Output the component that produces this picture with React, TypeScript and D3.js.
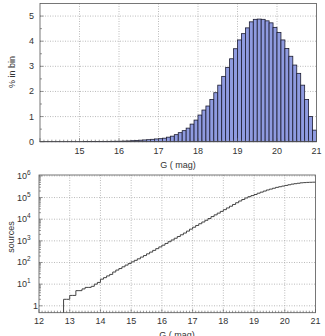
import React from "react";
import * as d3 from "d3";

// histogram: % of sources per 0.1 mag bin, bins start at 14.0 ... 20.9
const binStarts = d3.range(70).map((i) => +(14 + i * 0.1).toFixed(1));
const pctInBin = [
  0.0005, 0.0006, 0.0007, 0.0008, 0.001, 0.0012, 0.0014, 0.0016, 0.0018, 0.002,
  0.003, 0.004, 0.005, 0.006, 0.008, 0.009, 0.011, 0.013, 0.015, 0.018,
  0.02, 0.025, 0.03, 0.04, 0.05, 0.06, 0.07, 0.08, 0.095, 0.11,
  0.12, 0.14, 0.18, 0.22, 0.28, 0.36, 0.44, 0.54, 0.7, 0.86,
  1.06, 1.26, 1.42, 1.68, 1.95, 2.25, 2.6, 2.95, 3.3, 3.7,
  4.05, 4.3, 4.53, 4.77, 4.87, 4.88, 4.87, 4.81, 4.73, 4.55,
  4.35, 4.05, 3.71, 3.4, 3.05, 2.72, 2.25, 1.68, 1.0, 0.46,
];
const histXTicks = [15, 16, 17, 18, 19, 20, 21];
const histYTicks = [0, 1, 2, 3, 4, 5];

// cumulative sources (log10) per 0.1 mag step, starting at 12.8
const cumStarts = d3.range(82).map((i) => +(12.8 + i * 0.1).toFixed(1));
const cumLog10 = [
  0.3, 0.3, 0.48, 0.48, 0.7, 0.7, 0.78, 0.85, 0.85, 0.9,
  1.0, 1.08, 1.23, 1.3, 1.38, 1.45, 1.56, 1.65, 1.72, 1.8,
  1.88, 1.95, 2.03, 2.1, 2.17, 2.25, 2.32, 2.4, 2.48, 2.56,
  2.64, 2.72, 2.8, 2.88, 2.96, 3.04, 3.12, 3.2, 3.28, 3.36,
  3.45, 3.54, 3.63, 3.71, 3.79, 3.87, 3.95, 4.03, 4.12, 4.2,
  4.28, 4.36, 4.44, 4.52, 4.6, 4.68, 4.76, 4.84, 4.91, 4.98,
  5.04, 5.09, 5.14, 5.2, 5.25, 5.3, 5.35, 5.39, 5.43, 5.47,
  5.5, 5.53, 5.56, 5.59, 5.62, 5.64, 5.66, 5.68, 5.69, 5.7,
  5.705, 5.71,
];
const cumXTicks = [12, 13, 14, 15, 16, 17, 18, 19, 20, 21];
const cumYExp = [0, 1, 2, 3, 4, 5, 6];

const font = "'Liberation Sans', Arial, sans-serif";
const frame = "#555";
const grid = "#aaa";

function TopChart() {
  const x = d3.scaleLinear().domain([14, 21]).range([40, 316.5]);
  const y = d3.scaleLinear().domain([0, 5.5]).range([141.7, 3.5]);
  const minorX = d3.range(140, 211).map((i) => i / 10);
  const minorY = d3.range(0, 11).map((i) => i / 2);
  return (
    <g>
      {histXTicks.slice(0, -1).map((t) => (
        <line key={"gx" + t} x1={x(t)} x2={x(t)} y1={y(5.5)} y2={y(0)} stroke={grid} strokeWidth={0.8} strokeDasharray="1,1.5" />
      ))}
      {histYTicks.slice(1).map((t) => (
        <line key={"gy" + t} x1={x(14)} x2={x(21)} y1={y(t)} y2={y(t)} stroke={grid} strokeWidth={0.8} strokeDasharray="1,1.5" />
      ))}
      {pctInBin.map((v, i) => (
        <rect
          key={i}
          x={x(binStarts[i])}
          y={y(v)}
          width={x(binStarts[i] + 0.1) - x(binStarts[i])}
          height={y(0) - y(v)}
          fill="#8f9be0"
          stroke="#1c1c30"
          strokeWidth={0.8}
        />
      ))}
      {minorX.map((t, i) => (
        <line key={"mx" + i} x1={x(t)} x2={x(t)} y1={y(0)} y2={y(0) - (Number.isInteger(t) ? 3.5 : 2)} stroke={frame} strokeWidth={0.6} />
      ))}
      {minorY.map((t, i) => (
        <line key={"my" + i} x1={x(14)} x2={x(14) + (Number.isInteger(t) ? 3.5 : 2)} y1={y(t)} y2={y(t)} stroke={frame} strokeWidth={0.6} />
      ))}
      <rect x={x(14)} y={y(5.5)} width={x(21) - x(14)} height={y(0) - y(5.5)} fill="none" stroke={frame} strokeWidth={0.8} />
      {histXTicks.map((t) => (
        <text key={"tx" + t} x={x(t)} y={154} textAnchor="middle" fontSize={9} fill="#333">{t}</text>
      ))}
      {histYTicks.map((t) => (
        <text key={"ty" + t} x={34} y={y(t) + 3} textAnchor="end" fontSize={9} fill="#333">{t}</text>
      ))}
      <text x={178} y={168} textAnchor="middle" fontSize={9} fill="#333">G ( mag)</text>
      <text transform="translate(15,72) rotate(-90)" textAnchor="middle" fontSize={9} fill="#333">% in bin</text>
    </g>
  );
}

function BottomChart() {
  const x = d3.scaleLinear().domain([12, 21]).range([39, 315.5]);
  const y = d3.scaleLog().domain([0.48, 1.1e6]).range([312.7, 175]);
  const minorX = d3.range(120, 211).map((i) => i / 10);
  const minorY: number[] = [];
  cumYExp.forEach((e) => {
    for (let m = 1; m < 10; m++) {
      const v = m * Math.pow(10, e);
      if (v <= 1.1e6) minorY.push(v);
    }
  });
  const pts: [number, number][] = [[12.8, 0.48]];
  cumStarts.forEach((g, i) => pts.push([g, Math.pow(10, cumLog10[i])]));
  pts.push([21, Math.pow(10, cumLog10[cumLog10.length - 1])]);
  const line = d3
    .line<[number, number]>()
    .x((d) => x(d[0]))
    .y((d) => y(d[1]))
    .curve(d3.curveStepAfter);
  return (
    <g>
      {cumXTicks.slice(1, -1).map((t) => (
        <line key={"gx" + t} x1={x(t)} x2={x(t)} y1={y(1.1e6)} y2={y(0.48)} stroke={grid} strokeWidth={0.8} strokeDasharray="1,1.5" />
      ))}
      {cumYExp.map((e) => (
        <line key={"gy" + e} x1={x(12)} x2={x(21)} y1={y(Math.pow(10, e))} y2={y(Math.pow(10, e))} stroke={grid} strokeWidth={0.8} strokeDasharray="1,1.5" />
      ))}
      {minorX.map((t, i) => (
        <line key={"mx" + i} x1={x(t)} x2={x(t)} y1={y(0.48)} y2={y(0.48) - (Number.isInteger(t) ? 3.5 : 2)} stroke={frame} strokeWidth={0.6} />
      ))}
      {minorY.map((v, i) => (
        <line key={"my" + i} x1={x(12)} x2={x(12) + (i % 9 === 0 ? 3.5 : 2)} y1={y(v)} y2={y(v)} stroke={frame} strokeWidth={0.6} />
      ))}
      <path d={line(pts) || ""} fill="none" stroke="#444" strokeWidth={1} />
      <rect x={x(12)} y={y(1.1e6)} width={x(21) - x(12)} height={y(0.48) - y(1.1e6)} fill="none" stroke={frame} strokeWidth={0.8} />
      {cumXTicks.map((t) => (
        <text key={"tx" + t} x={x(t)} y={324} textAnchor="middle" fontSize={9} fill="#333">{t}</text>
      ))}
      {cumYExp.map((e) =>
        e === 0 ? (
          <text key={"ty" + e} x={38} y={y(1) + 3} textAnchor="end" fontSize={9} fill="#333">1</text>
        ) : (
          <text key={"ty" + e} x={17} y={y(Math.pow(10, e)) + 3} fontSize={9} fill="#333">
            10<tspan dy={-4} fontSize={6.5}>{e}</tspan>
          </text>
        )
      )}
      <text x={177} y={338} textAnchor="middle" fontSize={9} fill="#333">G ( mag)</text>
      <text transform="translate(14,237) rotate(-90)" textAnchor="middle" fontSize={9} fill="#333">sources</text>
    </g>
  );
}

export default function App() {
  return (
    <svg width={325} height={336} style={{ position: "absolute", left: 0, top: 0, background: "#fff" }} fontFamily={font}>
      <rect width={325} height={336} fill="#fff" />
      <TopChart />
      <BottomChart />
    </svg>
  );
}
